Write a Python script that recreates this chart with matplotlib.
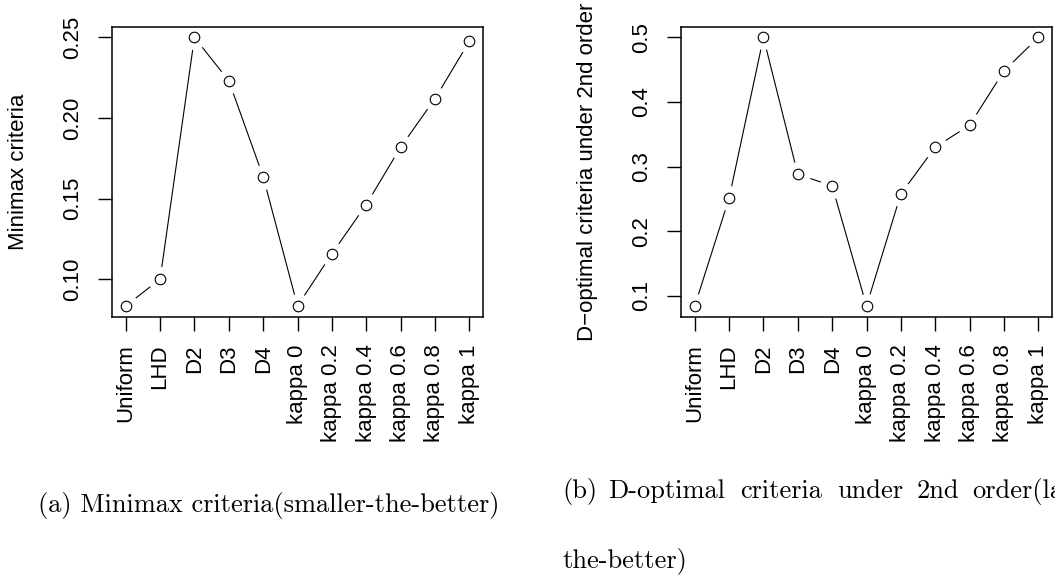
# import packages
import numpy as np
from matplotlib import pyplot as plt

# designs on the x axis
designs = ['Uniform', 'LHD', 'D2', 'D3', 'D4', 'kappa 0', 'kappa 0.2',
           'kappa 0.4', 'kappa 0.6', 'kappa 0.8', 'kappa 1']

# minimax criteria (smaller the better)
minimax = [0.0833, 0.1000, 0.2500, 0.2231, 0.1636, 0.0833, 0.1157,
           0.1462, 0.1818, 0.2119, 0.2475]
minimax_ticks = [0.10, 0.15, 0.20, 0.25]

# D-optimal criteria under 2nd order (larger the better)
doptimal = [0.084, 0.251, 0.500, 0.288, 0.270, 0.084, 0.2575,
            0.330, 0.364, 0.448, 0.500]
doptimal_ticks = [0.1, 0.2, 0.3, 0.4, 0.5]

W, H = 1055, 577
fig = plt.figure(figsize=(W / 100, H / 100), dpi=100)

sans = ['Liberation Sans', 'DejaVu Sans']


def panel(left, values, ticks, fmt, ylabel):
    ax = fig.add_axes([left / W, (H - 316.7) / H, 371 / W, 290 / H])
    x = np.arange(len(values))
    # R type="b": line broken around each point
    ax.plot(x, values, color='black', lw=0.8, zorder=1)
    ax.plot(x, values, 'o', ms=18, mfc='white', mec='none', zorder=1.5)
    ax.plot(x, values, 'o', ms=7.6, mfc='white', mec='black', mew=0.8,
            zorder=3)
    ax.margins(0.04)
    for s in ax.spines.values():
        s.set_linewidth(1.1)
    ax.set_xticks(x)
    ax.set_xticklabels(designs, rotation=90, fontsize=16, family=sans)
    ax.set_yticks(ticks)
    ax.set_yticklabels([fmt % t for t in ticks], rotation=90, va='center',
                       fontsize=16, family=sans)
    ax.tick_params(axis='x', length=10, width=1, pad=10)
    ax.tick_params(axis='y', length=10, width=1, pad=11)
    ax.set_ylabel(ylabel, fontsize=16, family=sans)
    ax.yaxis.label.set_va('center')
    ax.yaxis.set_label_coords(-93 / 371, 0.5)
    return ax


panel(112, minimax, minimax_ticks, '%.2f', 'Minimax criteria')
panel(681, doptimal, doptimal_ticks, '%.1f',
      'D\u2212optimal criteria under 2nd order')

# sub captions (justified line in (b), words placed one by one)
cap = dict(family='cmr10', fontsize=19, va='baseline', ha='left')
fig.text(38 / W, (H - 512) / H, '(a) Minimax criteria(smaller-the-better)',
         **cap)
words = ['(b)', 'D-optimal', 'criteria', 'under', '2nd', 'order(larger-']
word_x = [562, 608, 740, 837, 917, 972]
for w, xp in zip(words, word_x):
    fig.text(xp / W, (H - 498) / H, w, **cap)
fig.text(562 / W, (H - 567) / H, 'the-better)', **cap)

plt.savefig('out.png', dpi=100)
